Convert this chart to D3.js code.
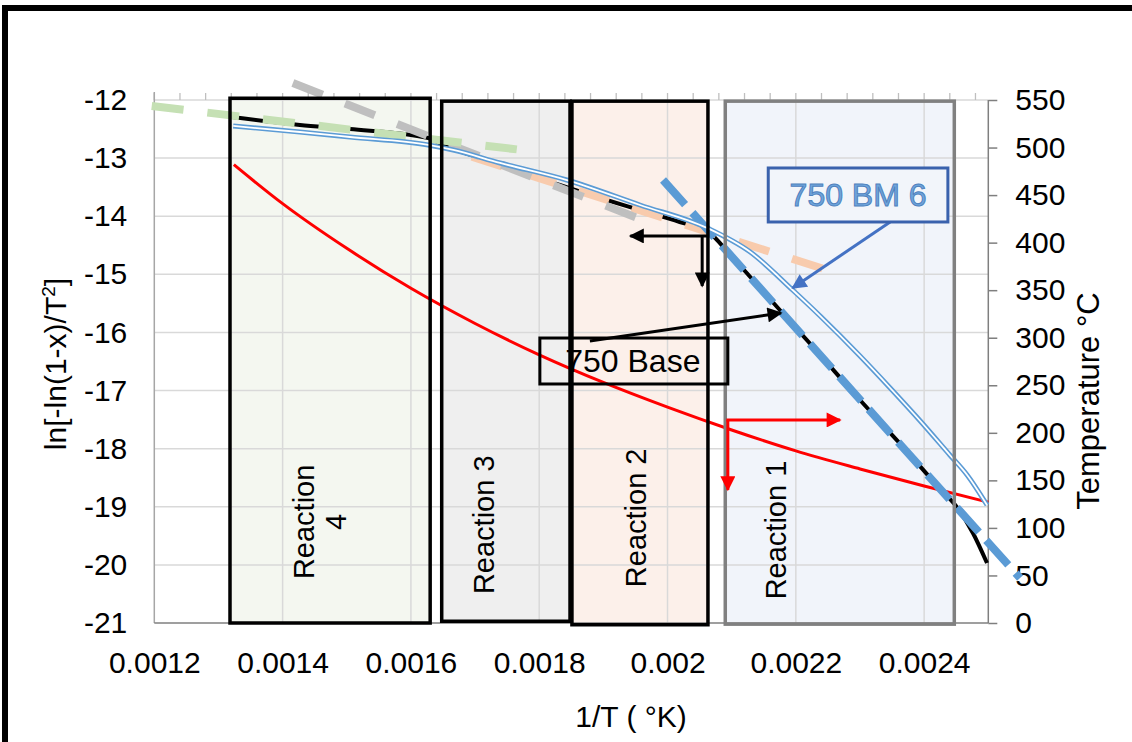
<!DOCTYPE html>
<html>
<head>
<meta charset="utf-8">
<script src="https://cdn.jsdelivr.net/npm/d3@7"></script>
<style>
  body { margin: 0; background: #fff; }
  svg { display: block; }
  text { font-family: "Liberation Sans", Arial, Helvetica, sans-serif; fill: #000; }
</style>
</head>
<body>
<svg id="chart" width="1132" height="742"></svg>
<script>
// ---- axis ticks ----
const xTicks = [0.0012, 0.0014, 0.0016, 0.0018, 0.002, 0.0022, 0.0024];
const lnTicks = [-21, -20, -19, -18, -17, -16, -15, -14, -13, -12];
const tempTicks = [0, 50, 100, 150, 200, 250, 300, 350, 400, 450, 500, 550];

// ---- 750 Base : ln[-ln(1-x)/T^2] vs 1/T ----
const baseInvT = [0.001321, 0.001427, 0.001505, 0.001627, 0.001653, 0.001719, 0.001770, 0.001832,
  0.001895, 0.001957, 0.002019, 0.002062, 0.002098, 0.002129, 0.002175, 0.002227, 0.002300,
  0.002363, 0.002425, 0.002452, 0.002476, 0.002498];
const baseLn = [-12.293, -12.430, -12.499, -12.654, -12.792, -13.033, -13.222, -13.463,
  -13.686, -13.893, -14.099, -14.254, -14.667, -15.046, -15.614, -16.251, -17.163,
  -17.920, -18.694, -19.021, -19.451, -19.968];

// ---- 750 BM 6 ----
const bm6InvT = [0.001323, 0.001427, 0.001505, 0.001627, 0.001666, 0.001739, 0.001843, 0.001957,
  0.002062, 0.002129, 0.002195, 0.002238, 0.002300, 0.002347, 0.002394, 0.002440, 0.002467, 0.002498];
const bm6Ln = [-12.447, -12.551, -12.637, -12.774, -12.860, -13.084, -13.377, -13.807,
  -14.203, -14.616, -15.270, -15.718, -16.405, -16.956, -17.524, -18.109, -18.453, -18.970];

// ---- furnace temperature (right axis) ----
const tempInvT = [0.001324, 0.0014, 0.0015, 0.0016, 0.0017, 0.0018, 0.0019, 0.0020,
  0.0021, 0.0022, 0.0023, 0.0024, 0.0025];
const tempC = [482, 441, 394, 352, 315, 282, 253, 227, 203, 181, 162, 144, 127];

// ---- straight-line fits for each reaction stage (start, end) ----
const fit4InvT = [0.001196, 0.001765];  const fit4Ln = [-12.103, -12.850];
const fit3InvT = [0.001416, 0.001952];  const fit3Ln = [-11.709, -14.027];
const fit2InvT = [0.001695, 0.002242];  const fit2Ln = [-12.976, -14.901];
const fit1InvT = [0.001993, 0.0025495]; const fit1Ln = [-13.377, -20.226];

// ---- reaction stage windows ----
const stageNames = ["Reaction 4", "Reaction 3", "Reaction 2", "Reaction 1"];
const stageStart = [0.001318, 0.001648, 0.001851, 0.002090];
const stageEnd   = [0.001630, 0.001848, 0.002063, 0.002447];
const stageLabelInvT = [0.001459, 0.001714, 0.001951, 0.002169];
const stageLabelLn   = [-19.26, -19.31, -19.19, -19.40];

// ---- scales ----
const svg = d3.select("#chart");
const x = d3.scaleLinear().domain([0.0012, 0.0025]).range([154.3, 988.3]);
const yL = d3.scaleLinear().domain([-21, -12]).range([623, 100]);
const yR = d3.scaleLinear().domain([0, 550]).range([623, 100]);

// outer frame
svg.append("rect").attr("x", 5).attr("y", 8).attr("width", 1200).attr("height", 800)
  .attr("fill", "#fff").attr("stroke", "#000").attr("stroke-width", 6);

// stage fills
const stageFill = ["#f4f7f0", "#efefef", "#fcf0ea", "#f1f4fa"];
const stageStroke = ["#000", "#000", "#000", "#808080"];
const stageTop = [-11.97, -12.02, -12.02, -12.02];
const stageBottom = [-21.0, -20.97, -21.03, -21.02];
const stages = stageNames.map((n, i) => ({
  name: n, x0: stageStart[i], x1: stageEnd[i], fill: stageFill[i], stroke: stageStroke[i],
  top: stageTop[i], bottom: stageBottom[i], lx: stageLabelInvT[i], ly: stageLabelLn[i]
}));

svg.append("g").selectAll("rect").data(stages).join("rect")
  .attr("x", d => x(d.x0)).attr("y", d => yL(d.top))
  .attr("width", d => x(d.x1) - x(d.x0)).attr("height", d => yL(d.bottom) - yL(d.top))
  .attr("fill", d => d.fill);

// gridlines
const grid = svg.append("g").attr("stroke", "#d9d9d9").attr("stroke-width", 1.5);
grid.selectAll(".gx").data(xTicks.slice(1)).join("line")
  .attr("x1", d => x(d)).attr("x2", d => x(d)).attr("y1", yL(-12)).attr("y2", yL(-21));
grid.selectAll(".gy").data(lnTicks.slice(1)).join("line")
  .attr("x1", x(0.0012)).attr("x2", x(0.0025)).attr("y1", d => yL(d)).attr("y2", d => yL(d));

// minor ticks along the top edge
const minorTicks = d3.range(0, 33).map(i => 0.0012 + i * 0.00004);
svg.append("g").attr("stroke", "#bfbfbf").attr("stroke-width", 1.3)
  .selectAll("line").data(minorTicks).join("line")
  .attr("x1", d => x(d)).attr("x2", d => x(d)).attr("y1", yL(-12) - 7).attr("y2", yL(-12));

// axes
const fmtX = d => String(+d.toFixed(4));
const axB = svg.append("g").attr("transform", `translate(0,${yL(-21)})`)
  .call(d3.axisBottom(x).tickValues(xTicks).tickFormat(fmtX).tickSize(0).tickPadding(29));
axB.select(".domain").remove();
axB.selectAll("text").attr("font-size", 30).style("font-family", '"Liberation Sans", Arial, sans-serif');

const axL = svg.append("g").attr("transform", `translate(${x(0.0012)},0)`)
  .call(d3.axisLeft(yL).tickValues(lnTicks).tickFormat(d => String(d)).tickSize(0).tickPadding(27));
axL.select(".domain").remove();
axL.selectAll("text").attr("font-size", 30).style("font-family", '"Liberation Sans", Arial, sans-serif');

const axR = svg.append("g").attr("transform", `translate(${x(0.0025)},0)`)
  .call(d3.axisRight(yR).tickValues(tempTicks).tickSize(9).tickPadding(18));
axR.select(".domain").remove();
axR.selectAll("line").attr("stroke", "#7f7f7f").attr("stroke-width", 1.5);
axR.selectAll("text").attr("font-size", 30).style("font-family", '"Liberation Sans", Arial, sans-serif');

// axis lines
svg.append("line").attr("x1", x(0.0012)).attr("x2", x(0.0012))
  .attr("y1", yL(-12) - 8).attr("y2", yL(-21)).attr("stroke", "#a6a6a6").attr("stroke-width", 1.5);
svg.append("line").attr("x1", x(0.0012)).attr("x2", x(0.0025))
  .attr("y1", yL(-21)).attr("y2", yL(-21)).attr("stroke", "#7f7f7f").attr("stroke-width", 1.5);
svg.append("line").attr("x1", x(0.0025)).attr("x2", x(0.0025))
  .attr("y1", yL(-12)).attr("y2", yL(-21)).attr("stroke", "#7f7f7f").attr("stroke-width", 1.5);

// axis titles
svg.append("text").attr("transform", `translate(1099,401) rotate(-90)`)
  .attr("text-anchor", "middle").attr("font-size", 31).text("Temperature °C");
const lt = svg.append("text").attr("transform", `translate(66,364) rotate(-90)`)
  .attr("text-anchor", "middle").attr("font-size", 30);
lt.append("tspan").text("ln[-ln(1-x)/T");
lt.append("tspan").attr("font-size", 19).attr("dy", -11).text("2");
lt.append("tspan").attr("dy", 11).text("]");
svg.append("text").attr("x", 631).attr("y", 727).attr("text-anchor", "middle")
  .attr("font-size", 30).text("1/T ( °K)");

// line generators
const lineLn = d3.line().x(d => x(d[0])).y(d => yL(d[1])).curve(d3.curveMonotoneX);
const lineT = d3.line().x(d => x(d[0])).y(d => yR(d[1])).curve(d3.curveMonotoneX);
const straight = d3.line().x(d => x(d[0])).y(d => yL(d[1]));
const zip = (a, b) => a.map((v, i) => [v, b[i]]);

// temperature
svg.append("path").attr("d", lineT(zip(tempInvT, tempC)))
  .attr("fill", "none").attr("stroke", "#ff0000").attr("stroke-width", 3);

// 750 Base
svg.append("path").attr("d", lineLn(zip(baseInvT, baseLn)))
  .attr("fill", "none").attr("stroke", "#000").attr("stroke-width", 4);

// stage fits
const fits = [
  { px: fit2InvT, py: fit2Ln, color: "#f8cbad", dash: "32 24" },
  { px: fit3InvT, py: fit3Ln, color: "#bfbfbf", dash: "32 24" },
  { px: fit4InvT, py: fit4Ln, color: "#c5e0b4", dash: "32 24" },
  { px: fit1InvT, py: fit1Ln, color: "#5b9bd5", dash: "33 11" }
];
svg.append("g").selectAll("path").data(fits).join("path")
  .attr("d", d => straight(zip(d.px, d.py)))
  .attr("fill", "none").attr("stroke", d => d.color).attr("stroke-width", 8)
  .attr("stroke-dasharray", d => d.dash);

// 750 BM 6 (double line)
const bm6Path = lineLn(zip(bm6InvT, bm6Ln));
svg.append("path").attr("d", bm6Path).attr("fill", "none")
  .attr("stroke", "#5b9bd5").attr("stroke-width", 5);
svg.append("path").attr("d", bm6Path).attr("fill", "none")
  .attr("stroke", "#fff").attr("stroke-width", 1.8);

// stage outlines and labels
svg.append("g").selectAll("rect").data(stages).join("rect")
  .attr("x", d => x(d.x0)).attr("y", d => yL(d.top))
  .attr("width", d => x(d.x1) - x(d.x0)).attr("height", d => yL(d.bottom) - yL(d.top))
  .attr("fill", "none").attr("stroke", d => d.stroke).attr("stroke-width", 3.5);

const lbl = svg.append("g").selectAll("text").data(stages).join("text")
  .attr("transform", d => `translate(${x(d.lx)},${yL(d.ly)}) rotate(-90)`)
  .attr("text-anchor", "middle").attr("font-size", 29);
lbl.each(function (d) {
  const t = d3.select(this);
  if (d.name === "Reaction 4") {
    t.append("tspan").attr("x", 0).attr("y", -6).text("Reaction");
    t.append("tspan").attr("x", 0).attr("y", 26).text("4");
  } else {
    t.append("tspan").attr("x", 0).attr("y", 10).text(d.name);
  }
});

// arrow heads
const defs = svg.append("defs");
function head(id, color) {
  defs.append("marker").attr("id", id).attr("viewBox", "0 0 10 10")
    .attr("refX", 9).attr("refY", 5).attr("markerUnits", "userSpaceOnUse")
    .attr("markerWidth", 16).attr("markerHeight", 15).attr("orient", "auto")
    .append("path").attr("d", "M0,0 L10,5 L0,10 Z").attr("fill", color);
}
head("hBlack", "#000"); head("hRed", "#ff0000"); head("hBlue", "#4472c4");

// axis pointers: black -> left axis, red -> right axis
const blkCorner = [0.002062, -14.34], blkLeft = 0.001942, blkVx = 0.002054, blkDown = -15.20;
svg.append("line").attr("x1", x(blkCorner[0])).attr("y1", yL(blkCorner[1]))
  .attr("x2", x(blkLeft)).attr("y2", yL(blkCorner[1]))
  .attr("stroke", "#000").attr("stroke-width", 3).attr("marker-end", "url(#hBlack)");
svg.append("line").attr("x1", x(blkVx)).attr("y1", yL(blkCorner[1]))
  .attr("x2", x(blkVx)).attr("y2", yL(blkDown))
  .attr("stroke", "#000").attr("stroke-width", 3).attr("marker-end", "url(#hBlack)");

const redCorner = [0.002094, 213.5], redRight = 0.002269, redDown = 140;
svg.append("line").attr("x1", x(redCorner[0]) - 1.5).attr("y1", yR(redCorner[1]))
  .attr("x2", x(redRight)).attr("y2", yR(redCorner[1]))
  .attr("stroke", "#ff0000").attr("stroke-width", 3).attr("marker-end", "url(#hRed)");
svg.append("line").attr("x1", x(redCorner[0])).attr("y1", yR(redCorner[1]))
  .attr("x2", x(redCorner[0])).attr("y2", yR(redDown))
  .attr("stroke", "#ff0000").attr("stroke-width", 3).attr("marker-end", "url(#hRed)");

// callout: 750 Base
const baseBox = { x0: 0.001801, x1: 0.002094, top: -16.096, bottom: -16.887 };
svg.append("line").attr("x1", x(0.001879)).attr("y1", yL(-16.147))
  .attr("x2", x(0.002177)).attr("y2", yL(-15.665))
  .attr("stroke", "#000").attr("stroke-width", 3).attr("marker-end", "url(#hBlack)");
svg.append("rect").attr("x", x(baseBox.x0)).attr("y", yL(baseBox.top))
  .attr("width", x(baseBox.x1) - x(baseBox.x0)).attr("height", yL(baseBox.bottom) - yL(baseBox.top))
  .attr("fill", "none").attr("stroke", "#000").attr("stroke-width", 3);
svg.append("text").attr("x", (x(baseBox.x0) + x(baseBox.x1)) / 2 - 1)
  .attr("y", (yL(baseBox.top) + yL(baseBox.bottom)) / 2 + 11)
  .attr("text-anchor", "middle").attr("font-size", 32).text("750 Base");

// callout: 750 BM 6
const bmBox = { x0: 0.002157, x1: 0.002437, top: -13.170, bottom: -14.099 };
svg.append("line").attr("x1", x(0.002347)).attr("y1", yL(-14.099))
  .attr("x2", x(0.002195)).attr("y2", yL(-15.235))
  .attr("stroke", "#4472c4").attr("stroke-width", 3).attr("marker-end", "url(#hBlue)");
svg.append("rect").attr("x", x(bmBox.x0)).attr("y", yL(bmBox.top))
  .attr("width", x(bmBox.x1) - x(bmBox.x0)).attr("height", yL(bmBox.bottom) - yL(bmBox.top))
  .attr("fill", "#f2f5fa").attr("stroke", "#3a62ad").attr("stroke-width", 3);
svg.append("text").attr("x", (x(bmBox.x0) + x(bmBox.x1)) / 2)
  .attr("y", (yL(bmBox.top) + yL(bmBox.bottom)) / 2 + 11.5)
  .attr("text-anchor", "middle").attr("font-size", 32)
  .style("fill", "#6fa6dc").attr("stroke", "#4f81bd").attr("stroke-width", 1)
  .text("750 BM 6");
</script>
</body>
</html>
